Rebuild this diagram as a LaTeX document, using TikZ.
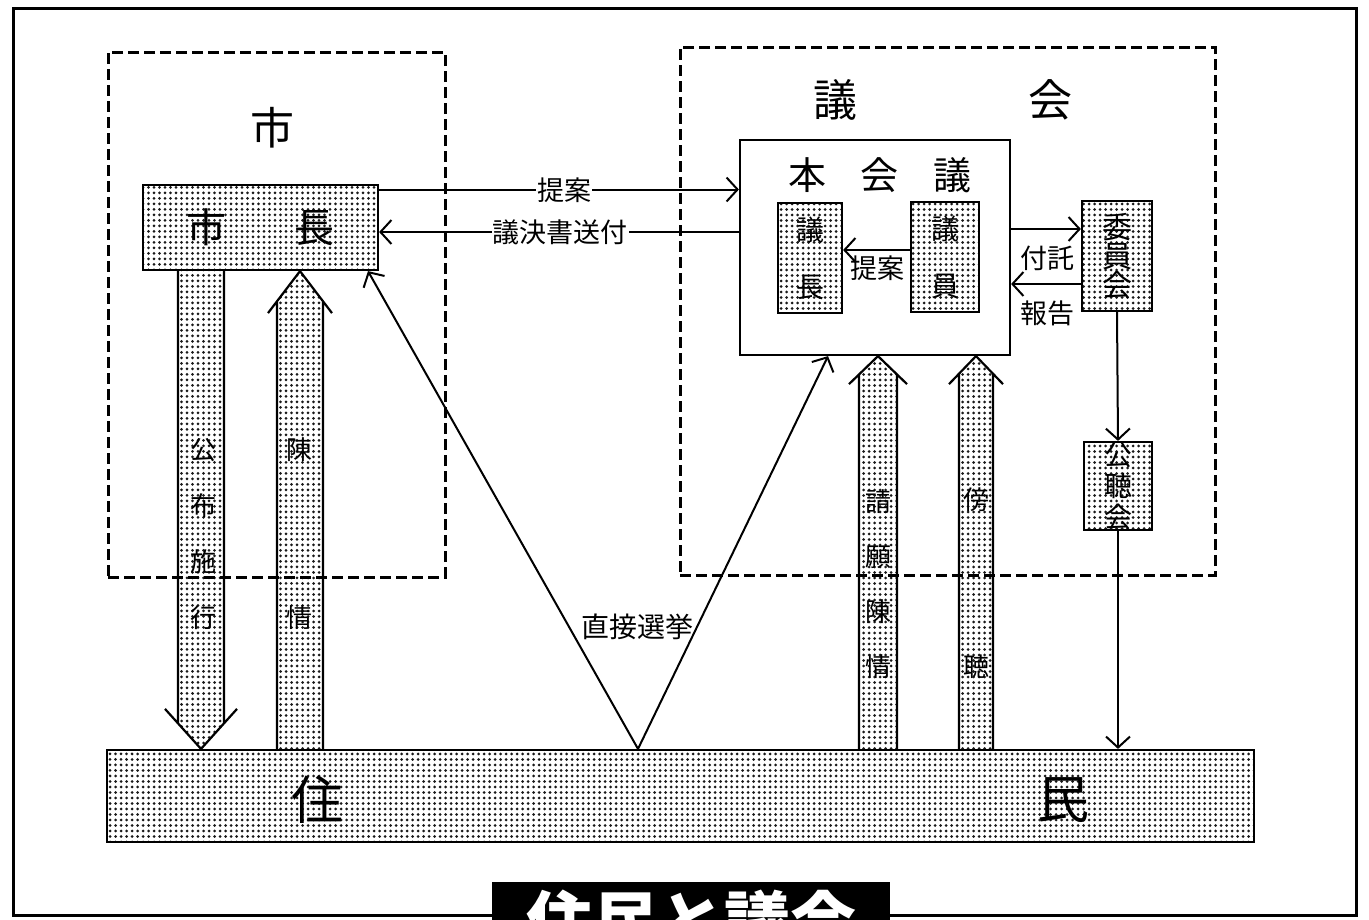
\documentclass[tikz,border=0pt]{standalone}
\usepackage{fontspec}
\setmainfont{Noto Sans CJK JP}
\usetikzlibrary{arrows.meta,patterns.meta,calc}
\pgfdeclarelayer{bg}
\pgfsetlayers{bg,main}
\newcommand\fs[1]{\fontsize{#1}{#1}\selectfont}
\newcommand\fsb[2]{\fontsize{#1}{#2}\selectfont}
% wide arrow pointing up (tip above tail): tail, tip, half shaft, half head, head length
\newcommand\wideup[5]{%
  \path[stip] let \p1=(#1),\p2=(#2) in
    ({\x1-#3pt},{\y1}) -- ({\x1-#3pt},{\y2-#5pt*#3/#4}) -- ({\x1},{\y2}) -- ({\x1+#3pt},{\y2-#5pt*#3/#4}) -- ({\x1+#3pt},{\y1}) -- cycle;
  \draw[wline] let \p1=(#1),\p2=(#2) in
    ({\x1-#3pt},{\y1}) -- ({\x1-#3pt},{\y2-#5pt*#3/#4})
    ({\x1+#3pt},{\y1}) -- ({\x1+#3pt},{\y2-#5pt*#3/#4})
    ({\x1-#4pt},{\y2-#5pt}) -- ({\x1},{\y2}) -- ({\x1+#4pt},{\y2-#5pt});
}
% wide arrow pointing down (tip below tail)
\newcommand\widedown[5]{%
  \path[stip] let \p1=(#1),\p2=(#2) in
    ({\x1-#3pt},{\y1}) -- ({\x1-#3pt},{\y2+#5pt*#3/#4}) -- ({\x1},{\y2}) -- ({\x1+#3pt},{\y2+#5pt*#3/#4}) -- ({\x1+#3pt},{\y1}) -- cycle;
  \draw[wline] let \p1=(#1),\p2=(#2) in
    ({\x1-#3pt},{\y1}) -- ({\x1-#3pt},{\y2+#5pt*#3/#4})
    ({\x1+#3pt},{\y1}) -- ({\x1+#3pt},{\y2+#5pt*#3/#4})
    ({\x1-#4pt},{\y2+#5pt}) -- ({\x1},{\y2}) -- ({\x1+#4pt},{\y2+#5pt});
}
\begin{document}
\begin{tikzpicture}[x=1pt,y=-1pt,
  stip/.style={pattern={Dots[distance=5.5pt,radius=1.5pt]},pattern color=black!90},
  sbox/.style={draw,line width=2.2pt,inner sep=0pt,stip},
  wbox/.style={draw,line width=2.2pt,inner sep=0pt},
  dbox/.style={draw,line width=3pt,dash pattern=on 11pt off 5pt,inner sep=0pt},
  wline/.style={line width=2.2pt},
  conn/.style={line width=2pt,-{Straight Barb[length=11pt,width=24pt]}},
  lbl/.style={inner sep=1pt}
]
\useasboundingbox (0,0) rectangle (1369,919);
\clip (0,0) rectangle (1369,919);
\begin{pgfonlayer}{bg}
\fill[white] (0,0) rectangle (1369,919);
\end{pgfonlayer}

% outer frame
\draw[line width=3pt] (13,8) rectangle (1356,915);

% dashed groups
\node[dbox,minimum width=337,minimum height=525] (shi) at (276.5,314.5) {};
\node[dbox,minimum width=535,minimum height=528] (gikai) at (947.5,311) {};
\node[font=\fs{44}] (shilbl) at (272,128) {市};
\node[font=\fs{44}] (gilbl1) at (835,100) {議};
\node[font=\fs{44}] (gilbl2) at (1050,100) {会};

% boxes
\node[sbox,minimum width=235,minimum height=85,font=\fs{40}] (shichou) at (260.5,227.5) {市\hspace{1.7em}長};
\node[wbox,minimum width=270,minimum height=215] (honkaigi) at (875,247.5) {};
\node[font=\fs{38}] (hklbl) at (880,175) {本\hspace{0.9em}会\hspace{0.9em}議};
\node[sbox,minimum width=64,minimum height=110,align=center,font=\fsb{28}{57}] (gichou) at (810,258) {議\\長};
\node[sbox,minimum width=68,minimum height=110,align=center,font=\fsb{28}{57}] (giin) at (945,257) {議\\員};
\node[sbox,minimum width=70,minimum height=110,align=center,font=\fsb{30}{29}] (iinkai) at (1117,256) {委\\員\\会};
\node[sbox,minimum width=68,minimum height=88,align=center,font=\fsb{28}{31}] (kouchoukai) at (1118,486) {公\\聴\\会};
\node[sbox,minimum width=1147,minimum height=92] (jumin) at (680.5,796) {};
\node[font=\fs{52}] (ju) at (317,800) {住};
\node[font=\fs{52}] (min) at (1063,800) {民};

% thin connectors
\coordinate (p1) at ([yshift=38pt]shichou.east);
\draw[conn] (p1) -- (p1 -| honkaigi.west);
\coordinate (q1) at ([yshift=-4.5pt]shichou.east);
\draw[conn] (q1 -| honkaigi.west) -- (q1);
\node[lbl,fill=white,font=\fs{27}] (teian1) at (564,190) {提案};
\node[lbl,fill=white,font=\fs{27}] (giketsu) at (560,232) {議決書送付};

\coordinate (r1) at ([yshift=7pt]giin.west);
\draw[conn] (r1) -- (r1 -| gichou.east);
\node[lbl,font=\fs{27}] (teian2) at (877,268) {提案};

\coordinate (t1) at ([yshift=18.5pt]honkaigi.east);
\draw[conn] (t1) -- (t1 -| iinkai.west);
\coordinate (t2) at ([yshift=-28pt]iinkai.west);
\draw[conn] (t2) -- (t2 -| honkaigi.east);
\node[lbl,font=\fs{27}] (futaku) at (1047,258) {付託};
\node[lbl,font=\fs{27}] (houkoku) at (1047,313) {報告};

\draw[conn] (iinkai.south) -- (kouchoukai.north);
\draw[conn] (kouchoukai.south) -- (kouchoukai.south |- jumin.north);

\coordinate (apex) at ([xshift=-42.5pt]jumin.north);
\draw[conn] (apex) -- ([xshift=107.5pt]shichou.south);
\draw[conn] (apex) -- ([xshift=-47pt]honkaigi.south);
\node[lbl,font=\fs{28}] (chokusetsu) at (637,627) {直接選挙};

% wide arrows (background layer)
\coordinate (kf1) at ([xshift=-59.5pt]shichou.south);
\coordinate (kf2) at (kf1 |- jumin.north);
\coordinate (c1) at ([xshift=-380.5pt]jumin.north);
\coordinate (c2) at (c1 |- shichou.south);
\coordinate (s1) at ([xshift=197.5pt]jumin.north);
\coordinate (s2) at (s1 |- honkaigi.south);
\coordinate (b1) at ([xshift=295.5pt]jumin.north);
\coordinate (b2) at (b1 |- honkaigi.south);
\begin{pgfonlayer}{bg}
\widedown{kf1}{kf2}{23}{36}{40}
\wideup{c1}{c2}{23}{32}{42}
\wideup{s1}{s2}{19}{29}{28}
\wideup{b1}{b2}{17}{27}{28}
\end{pgfonlayer}
\node[align=center,font=\fsb{26}{56}] (kouhu) at (203,534) {公\\布\\施\\行};
\node[align=center,font=\fsb{26}{168}] (chinjou) at (299,534) {陳\\情};
\node[align=center,font=\fsb{26}{55}] (seigan) at (878,584.5) {請\\願\\陳\\情};
\node[align=center,font=\fsb{26}{167}] (bouchou) at (976,583.5) {傍\\聴};

% title (cut off by the lower edge, as in the reference)
\node[fill=black,text=white,anchor=north,minimum width=398,inner sep=8pt,font=\fs{66}\bfseries] (title) at (691,882) {住民と議会};
\end{tikzpicture}
\end{document}
